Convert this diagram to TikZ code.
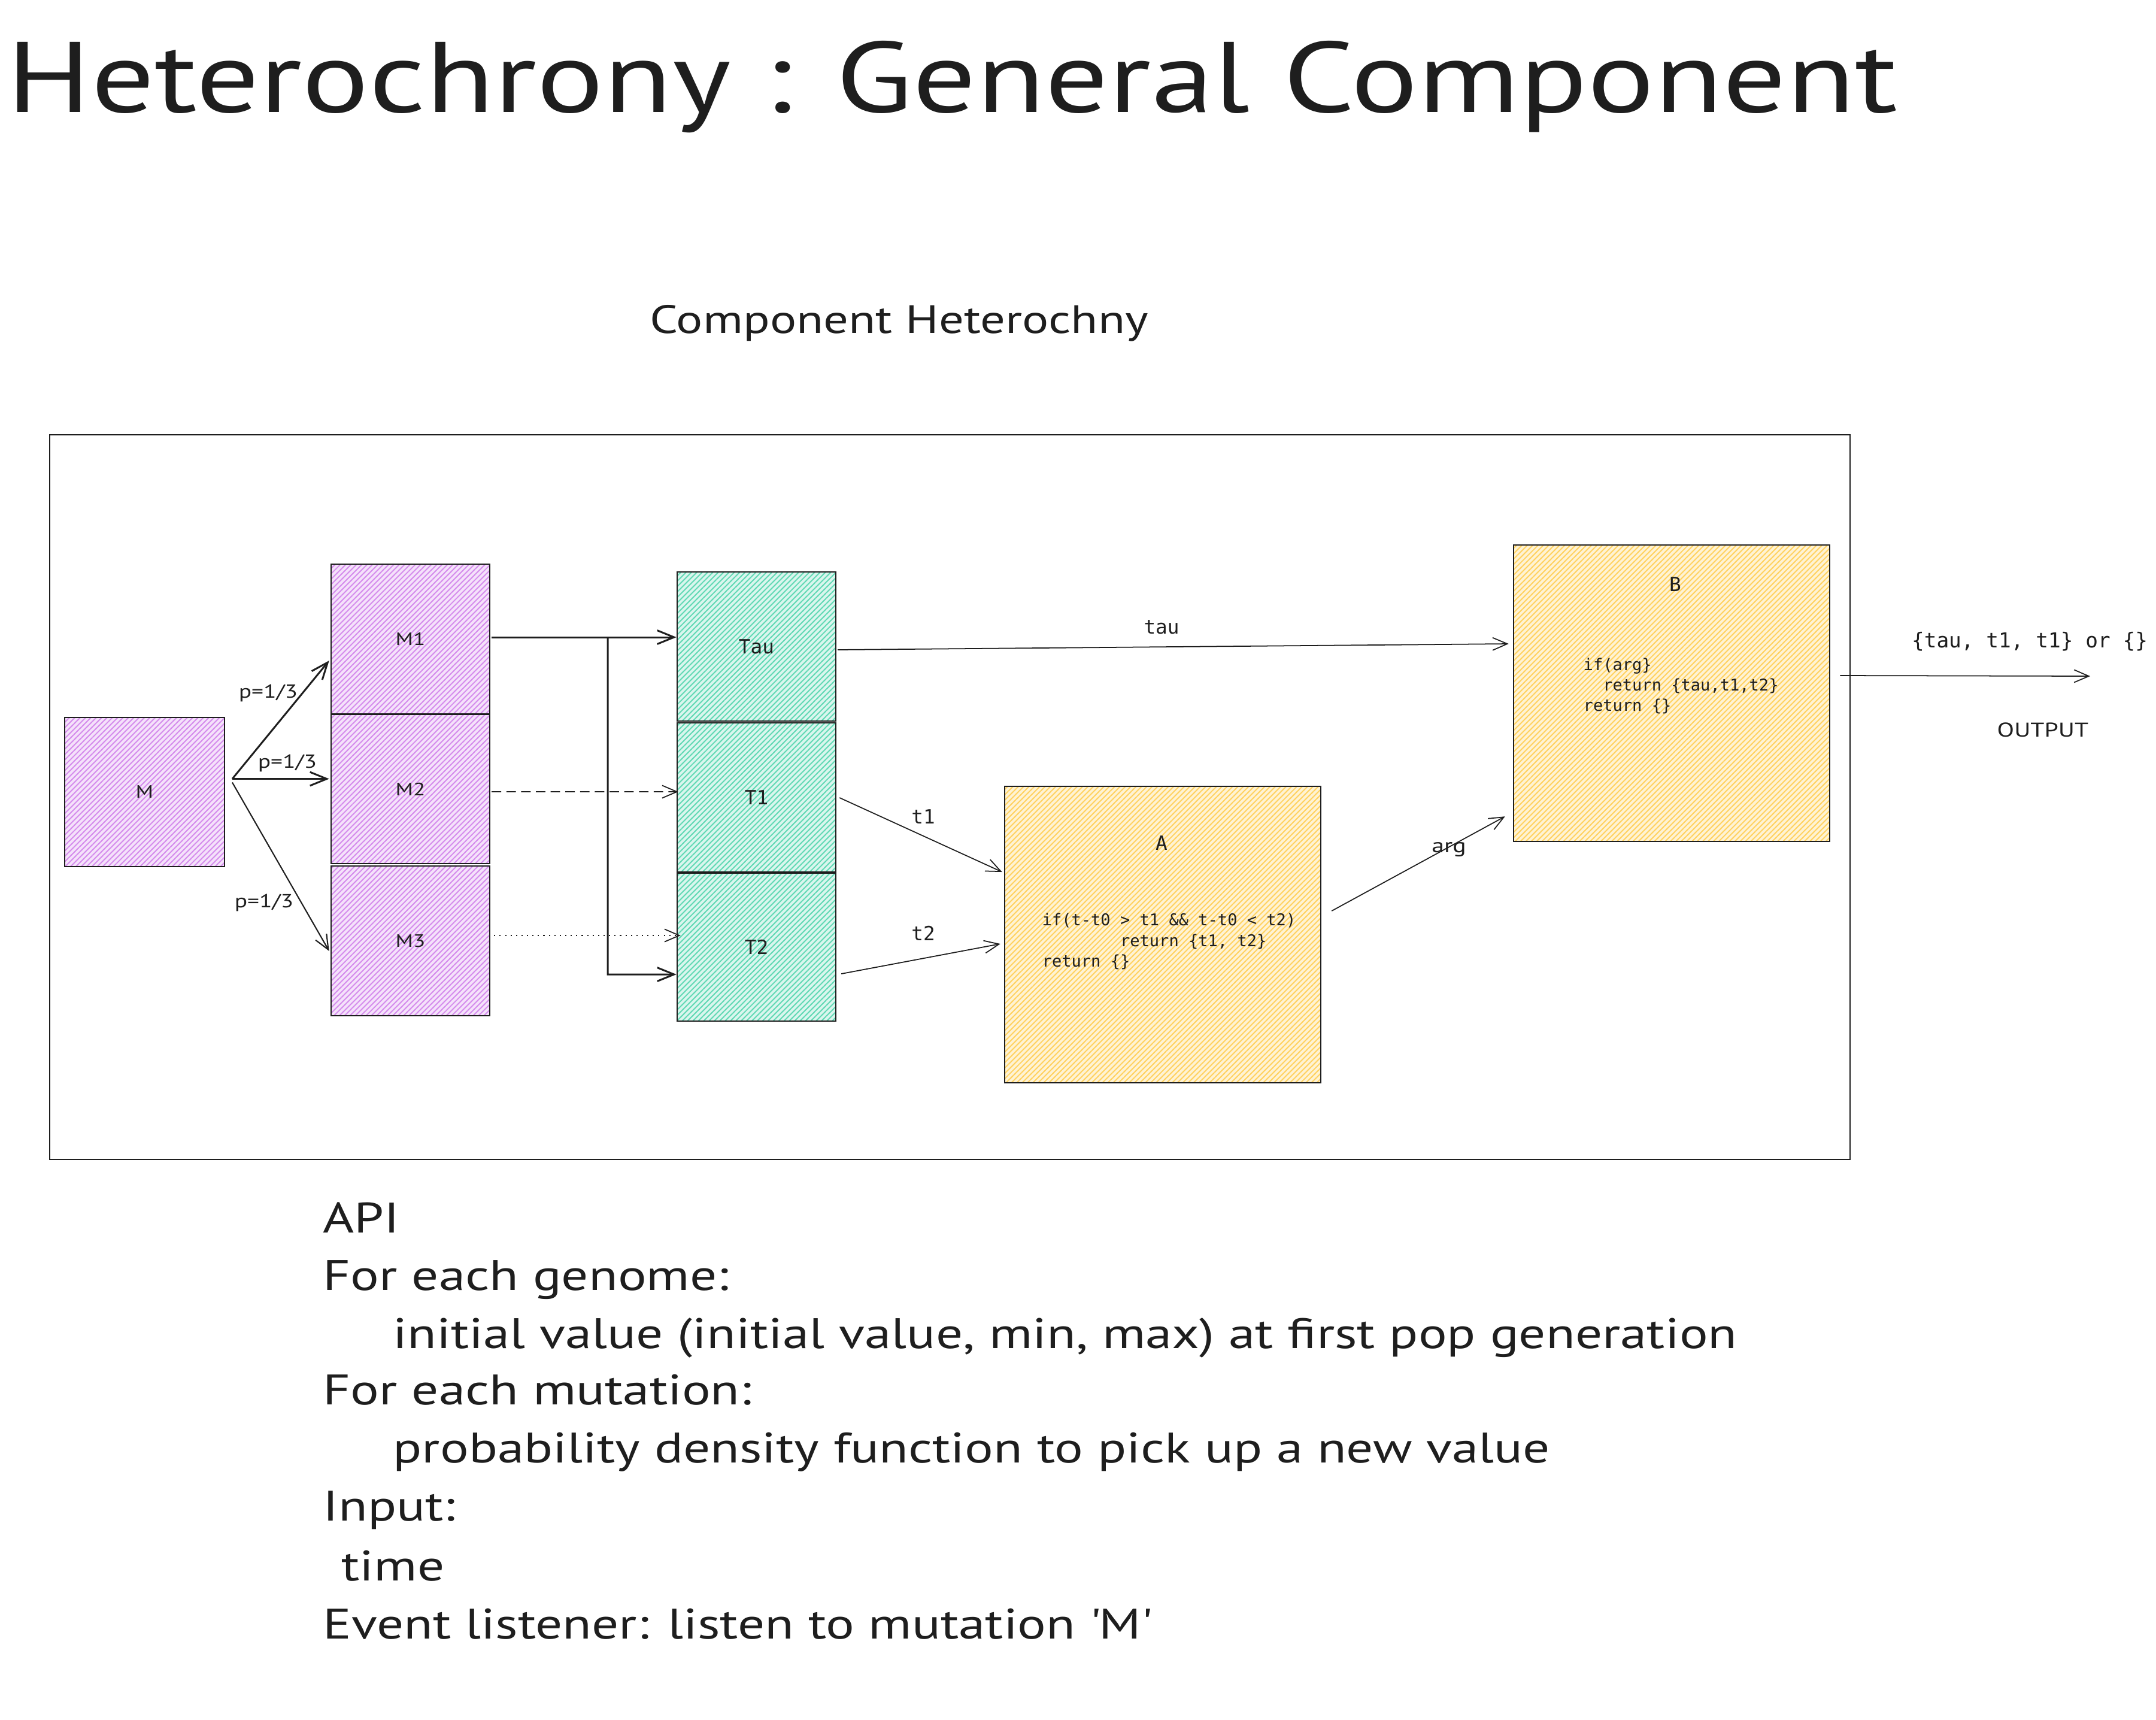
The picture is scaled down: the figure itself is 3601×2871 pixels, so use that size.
\documentclass[tikz,border=0pt]{standalone}
\usepackage{fontspec}
\newfontfamily\handf[FakeStretch=1.25]{PT Sans}
\newfontfamily\codef{DejaVu Sans Mono}
\usetikzlibrary{arrows.meta,patterns.meta,calc}
\definecolor{ink}{HTML}{1E1E1E}
\definecolor{pline}{HTML}{D48BEC}
\definecolor{pfill}{HTML}{F5E2FB}
\definecolor{tline}{HTML}{5FD8B3}
\definecolor{tfill}{HTML}{DAF6EE}
\definecolor{yline}{HTML}{FFD15E}
\definecolor{yfill}{HTML}{FFF3D4}
\begin{document}
\begin{tikzpicture}[x=0.1mm,y=-0.1mm,
  hatch/.style 2 args={preaction={fill=#2}, pattern={Lines[angle=45,distance=1.8pt,line width=0.55pt]}, pattern color=#1},
  boxs/.style={draw=ink, line width=0.7pt, inner sep=0pt, text=ink},
  rect/.style n args={4}{minimum width={(#3-#1)*0.1mm}, minimum height={(#4-#2)*0.1mm}, at={({(#1+#3)/2},{(#2+#4)/2})}},
  mlab/.style={font=\handf\fontsize{8.5}{10}\selectfont},
  clab/.style={font=\codef\fontsize{9.3}{11}\selectfont},
  codeln/.style={anchor=base west, inner sep=0pt, text=ink, font=\codef\fontsize{7.7}{9.8}\selectfont},
  elab/.style={inner sep=0pt, text=ink},
  apiln/.style={anchor=base west, inner sep=0pt, text=ink, font=\handf\fontsize{20.3}{24}\selectfont},
  arr/.style={draw=ink, line width=0.5pt, -{Straight Barb[length=7pt,width=6pt]}},
  tarr/.style={draw=ink, line width=0.85pt, -{Straight Barb[length=8pt,width=6.5pt]}}
]
\useasboundingbox (0,0) rectangle (3601,2871);

% titles
\node[anchor=base west, inner sep=0pt, text=ink] (title) at (11,187)
  {\resizebox{315.7mm}{!}{\handf Heterochrony : General Component}};
\node[anchor=base west, inner sep=0pt, text=ink] (subtitle) at (1085,556)
  {\resizebox{83.2mm}{!}{\handf Component Heterochny}};

% outer frame
\node[draw=ink, line width=0.6pt, inner sep=0pt, rect={83}{726}{3090}{1936}] (frame) {};

% boxes
\node[boxs, hatch={pline}{pfill}, rect={108}{1198}{375}{1447}, mlab] (M) {M};
\node[boxs, hatch={pline}{pfill}, rect={553}{942}{818}{1192}, mlab] (M1) {M1};
\node[boxs, hatch={pline}{pfill}, rect={553}{1193}{818}{1442}, mlab] (M2) {M2};
\node[boxs, hatch={pline}{pfill}, rect={553}{1446}{818}{1696}, mlab] (M3) {M3};
\node[boxs, hatch={tline}{tfill}, rect={1131}{955}{1396}{1204}, clab] (Tau) {Tau};
\node[boxs, hatch={tline}{tfill}, rect={1131}{1207}{1396}{1456}, clab] (T1) {T1};
\node[boxs, hatch={tline}{tfill}, rect={1131}{1458}{1396}{1705}, clab] (T2) {T2};
\node[boxs, hatch={yline}{yfill}, rect={1678}{1313}{2206}{1808}] (A) {};
\node[boxs, hatch={yline}{yfill}, rect={2528}{910}{3056}{1405}] (B) {};

% box texts
\node[elab, clab] (Alab) at (1940,1408) {A};
\node[codeln] (a1) at (1740,1545) {if(t-t0 > t1 \&\& t-t0 < t2)};
\node[codeln] (a2) at (1740,1580) {\hphantom{12345678}return \{t1, t2\}};
\node[codeln] (a3) at (1740,1614) {return \{\}};
\node[elab, clab] (Blab) at (2798,976) {B};
\node[codeln] (b1) at (2644,1119) {if(arg\}};
\node[codeln] (b2) at (2644,1153) {\hphantom{12}return \{tau,t1,t2\}};
\node[codeln] (b3) at (2644,1187) {return \{\}};

% connectors
\coordinate (fork) at ([shift={(12,-22)}]M.east);
\draw[tarr] (fork) -- ([shift={(-2,36)}]M1.west);
\draw[tarr] (fork) -- ([shift={(-2,-17)}]M2.west);
\draw[arr, line width=0.6pt] ([shift={(0,6)}]fork) -- ([shift={(-2,17)}]M3.west);
\node[elab, font=\handf\fontsize{9}{10}\selectfont] (p1) at (448,1157) {p=1/3};
\node[elab, font=\handf\fontsize{9}{10}\selectfont] (p2) at (480,1274) {p=1/3};
\node[elab, font=\handf\fontsize{9}{10}\selectfont] (p3) at (441,1507) {p=1/3};

\coordinate (j1) at (1015,1064);
\coordinate (j2) at (1015,1627);
\draw[tarr] ([shift={(2,-3)}]M1.east) -- ([shift={(0,-15.5)}]Tau.west);
\draw[tarr] (j1) -- (j2) -- ([shift={(0,45.5)}]T2.west);
\draw[arr, dash pattern=on 4.5pt off 2.5pt] ([shift={(2,4.5)}]M2.east) -- ([shift={(3,-9.5)}]T1.west);
\draw[arr, dash pattern=on 0.6pt off 2pt] ([shift={(6,-9)}]M3.east) -- ([shift={(7,-19.5)}]T2.west);

\draw[arr] ([shift={(2,5.5)}]Tau.east) -- ([shift={(-7,-82.5)}]B.west);
\node[elab, clab] (taulab) at (1940,1047) {tau};
\draw[arr] ([shift={(5,0.5)}]T1.east) -- ([shift={(-3,-104.5)}]A.west);
\node[elab, clab] (t1lab) at (1542,1364) {t1};
\draw[arr] ([shift={(8,44.5)}]T2.east) -- ([shift={(-6,15.5)}]A.west);
\node[elab, clab] (t2lab) at (1542,1558) {t2};
\draw[arr] ([shift={(17,-39.5)}]A.east) -- ([shift={(-13,-43)}]B.south west);
\node[elab, font=\handf\fontsize{9.5}{11}\selectfont] (arglab) at (2420,1418) {arg};

\coordinate (out) at (3491,1129);
\draw[arr] ([shift={(16,-29.5)}]B.east) -- (out);
\node[elab, font=\codef\fontsize{9.8}{12}\selectfont] (outtxt) at (3390,1071) {\{tau, t1, t1\} or \{\}};
\node[elab, font=\handf\fontsize{9.5}{12}\selectfont] (outlab) at (3412,1219) {OUTPUT};

% API text
\node[apiln] (api1) at (539,2058) {API};
\node[apiln] (api2) at (539,2154) {For each genome:};
\node[apiln] (api3) at (656,2251) {initial value (initial value, min, max) at first pop generation};
\node[apiln] (api4) at (539,2345) {For each mutation:};
\node[apiln] (api5) at (656,2442) {probability density function to pick up a new value};
\node[apiln] (api6) at (539,2539) {Input:};
\node[apiln] (api7) at (570,2639) {time};
\node[apiln] (api8) at (539,2736) {Event listener: listen to mutation \textquotesingle M\textquotesingle};
\end{tikzpicture}
\end{document}
